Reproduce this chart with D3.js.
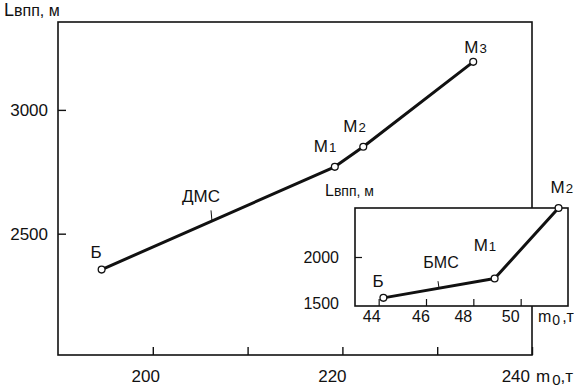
<!DOCTYPE html>
<html>
<head>
<meta charset="utf-8">
<script src="https://cdn.jsdelivr.net/npm/d3@7"></script>
<style>
  html, body { margin: 0; padding: 0; background: #fff; }
  svg text { font-family: "Liberation Sans", Arial, sans-serif; fill: #111; }
</style>
</head>
<body>
<svg id="chart" width="574" height="388"></svg>
<script>
// Main chart: runway length vs take-off mass (long-haul aircraft)
const mainNames = ["Б", "M1", "M2", "M3"];
const mainMass = [194.6, 219.2, 222.2, 233.8];
const mainLength = [2355, 2770, 2851, 3194];
const mainXTicks = [200, 210, 220, 230, 240];
const mainXLabels = [200, 220, 240];
const mainYTicks = [2500, 3000];

// Inset: short-haul aircraft
const insetNames = ["Б", "M1", "M2"];
const insetMass = [44.2, 48.9, 51.6];
const insetLength = [1583, 1781, 2500];
const insetXTicks = [44, 46, 48, 50];
const insetYTicks = [1500, 2000];

const svg = d3.select("#chart");
const ink = "#111";

// ---------- main chart ----------
const M = { left: 58, top: 22, right: 532, bottom: 355 };
const x = d3.scaleLinear().domain([190, 240]).range([M.left, M.right]);
const y = d3.scaleLinear().domain([2010, 3355]).range([M.bottom, M.top]);

svg.append("rect")
  .attr("x", M.left).attr("y", M.top)
  .attr("width", M.right - M.left).attr("height", M.bottom - M.top)
  .attr("fill", "none").attr("stroke", ink).attr("stroke-width", 1.6);

// x axis: inward ticks, labels shifted slightly left as in the print
const xAxis = svg.append("g").attr("transform", `translate(0,${M.bottom})`)
  .call(d3.axisTop(x).tickValues(mainXTicks).tickSize(8).tickFormat(""));
xAxis.select(".domain").remove();
xAxis.selectAll("line").attr("stroke", ink).attr("stroke-width", 1.4);

svg.selectAll(".xlab").data(mainXLabels).enter().append("text")
  .attr("class", "xlab")
  .attr("x", (d, i) => x(d) + [-7, -10, -2][i])
  .attr("y", 382)
  .attr("text-anchor", (d, i) => i === 2 ? "end" : "middle")
  .attr("font-size", 17)
  .text(d => d);

const xTitle = svg.append("text").attr("x", 536).attr("y", 382).attr("font-size", 17);
xTitle.append("tspan").text("m");
xTitle.append("tspan").attr("font-size", 15).attr("dy", 3).attr("dx", 2).text("0");
xTitle.append("tspan").attr("dy", -3).text(",т");

const yAxis = svg.append("g").attr("transform", `translate(${M.left},0)`)
  .call(d3.axisRight(y).tickValues(mainYTicks).tickSize(8).tickFormat(""));
yAxis.select(".domain").remove();
yAxis.selectAll("line").attr("stroke", ink).attr("stroke-width", 1.4);

svg.selectAll(".ylab").data(mainYTicks).enter().append("text")
  .attr("class", "ylab")
  .attr("x", 48).attr("y", d => y(d) + 6)
  .attr("text-anchor", "end").attr("font-size", 17)
  .text(d => d);

const yTitle = svg.append("text").attr("x", 4).attr("y", 16).attr("font-size", 18);
yTitle.append("tspan").text("L");
yTitle.append("tspan").attr("font-size", 16).text("впп, м");

const mainPts = mainMass.map((m, i) => ({ name: mainNames[i], x: m, y: mainLength[i] }));

svg.append("path").datum(mainPts)
  .attr("d", d3.line().x(d => x(d.x)).y(d => y(d.y)))
  .attr("fill", "none").attr("stroke", ink).attr("stroke-width", 3).attr("stroke-linejoin", "round");

svg.selectAll(".mpt").data(mainPts).enter().append("circle")
  .attr("class", "mpt")
  .attr("cx", d => x(d.x)).attr("cy", d => y(d.y)).attr("r", 3.4)
  .attr("fill", "#fff").attr("stroke", ink).attr("stroke-width", 1.3);

// point labels (M with smaller index digit)
function pointLabel(px, py, name, size) {
  const t = svg.append("text").attr("x", px).attr("y", py).attr("font-size", size);
  t.append("tspan").text(name[0]);
  if (name.length > 1) t.append("tspan").attr("font-size", size * 0.78).attr("dx", 1).text(name.slice(1));
}
const mainOffsets = [[-11, -12], [-21, -15], [-20, -15], [-9, -9]];
mainPts.forEach((d, i) => pointLabel(x(d.x) + mainOffsets[i][0], y(d.y) + mainOffsets[i][1], d.name, 17));

// "ДМС" series label with a short leader
const dmsX = 211;
const dmsY = y(mainLength[0]) + (y(mainLength[1]) - y(mainLength[0])) * (x.invert(dmsX) - mainMass[0]) / (mainMass[1] - mainMass[0]);
svg.append("line").attr("x1", dmsX).attr("x2", dmsX + 1).attr("y1", dmsY - 11).attr("y2", dmsY)
  .attr("stroke", ink).attr("stroke-width", 1);
svg.append("text").attr("x", 201).attr("y", 202).attr("text-anchor", "middle").attr("font-size", 17).text("ДМС");

// ---------- inset ----------
const I = { left: 355, top: 208, right: 568, bottom: 306 };
const ix = d3.scaleLinear().domain([43, 52]).range([I.left, I.right]);
const iy = d3.scaleLinear().domain([1500, 2500]).range([I.bottom, I.top]);

svg.append("rect")
  .attr("x", I.left).attr("y", I.top)
  .attr("width", I.right - I.left).attr("height", I.bottom - I.top)
  .attr("fill", "#fff").attr("stroke", ink).attr("stroke-width", 1.6);

const ixAxis = svg.append("g").attr("transform", `translate(0,${I.bottom})`)
  .call(d3.axisTop(ix).tickValues(insetXTicks).tickSize(7).tickFormat(""));
ixAxis.select(".domain").remove();
ixAxis.selectAll("line").attr("stroke", ink).attr("stroke-width", 1.2);

svg.selectAll(".ixlab").data(insetXTicks).enter().append("text")
  .attr("class", "ixlab")
  .attr("x", (d, i) => ix(d) + [-7, -5, -10, -10][i])
  .attr("y", 322).attr("text-anchor", "middle").attr("font-size", 16)
  .text(d => d);

const ixTitle = svg.append("text").attr("x", 538).attr("y", 322).attr("font-size", 16);
ixTitle.append("tspan").text("m");
ixTitle.append("tspan").attr("font-size", 14).attr("dy", 3).attr("dx", 1).text("0");
ixTitle.append("tspan").attr("dy", -3).attr("dx", 2).text(",т");

const iyAxis = svg.append("g").attr("transform", `translate(${I.left},0)`)
  .call(d3.axisRight(iy).tickValues([2000]).tickSize(7).tickFormat(""));
iyAxis.select(".domain").remove();
iyAxis.selectAll("line").attr("stroke", ink).attr("stroke-width", 1.2);

svg.selectAll(".iylab").data(insetYTicks).enter().append("text")
  .attr("class", "iylab")
  .attr("x", 339).attr("y", d => iy(d) + (d === 1500 ? 3 : 6))
  .attr("text-anchor", "end").attr("font-size", 16)
  .text(d => d);

const iyTitle = svg.append("text").attr("x", 325).attr("y", 196).attr("font-size", 16);
iyTitle.append("tspan").text("L");
iyTitle.append("tspan").attr("font-size", 14).text("впп, м");

const insetPts = insetMass.map((m, i) => ({ name: insetNames[i], x: m, y: insetLength[i] }));

svg.append("path").datum(insetPts)
  .attr("d", d3.line().x(d => ix(d.x)).y(d => iy(d.y)))
  .attr("fill", "none").attr("stroke", ink).attr("stroke-width", 3).attr("stroke-linejoin", "round");

svg.selectAll(".ipt").data(insetPts).enter().append("circle")
  .attr("class", "ipt")
  .attr("cx", d => ix(d.x)).attr("cy", d => iy(d.y)).attr("r", 3.4)
  .attr("fill", "#fff").attr("stroke", ink).attr("stroke-width", 1.3);

const insetOffsets = [[-11, -11], [-21, -27], [-8, -15]];
insetPts.forEach((d, i) => pointLabel(ix(d.x) + insetOffsets[i][0], iy(d.y) + insetOffsets[i][1], d.name, 17));

// "БМС" series label with a short leader
const bmsX = 439;
const bmsY = iy(insetLength[0]) + (iy(insetLength[1]) - iy(insetLength[0])) * (ix.invert(bmsX) - insetMass[0]) / (insetMass[1] - insetMass[0]);
svg.append("line").attr("x1", bmsX - 1).attr("x2", bmsX).attr("y1", bmsY - 7).attr("y2", bmsY)
  .attr("stroke", ink).attr("stroke-width", 1);
svg.append("text").attr("x", 441).attr("y", 268).attr("text-anchor", "middle").attr("font-size", 16).text("БМС");
</script>
</body>
</html>
